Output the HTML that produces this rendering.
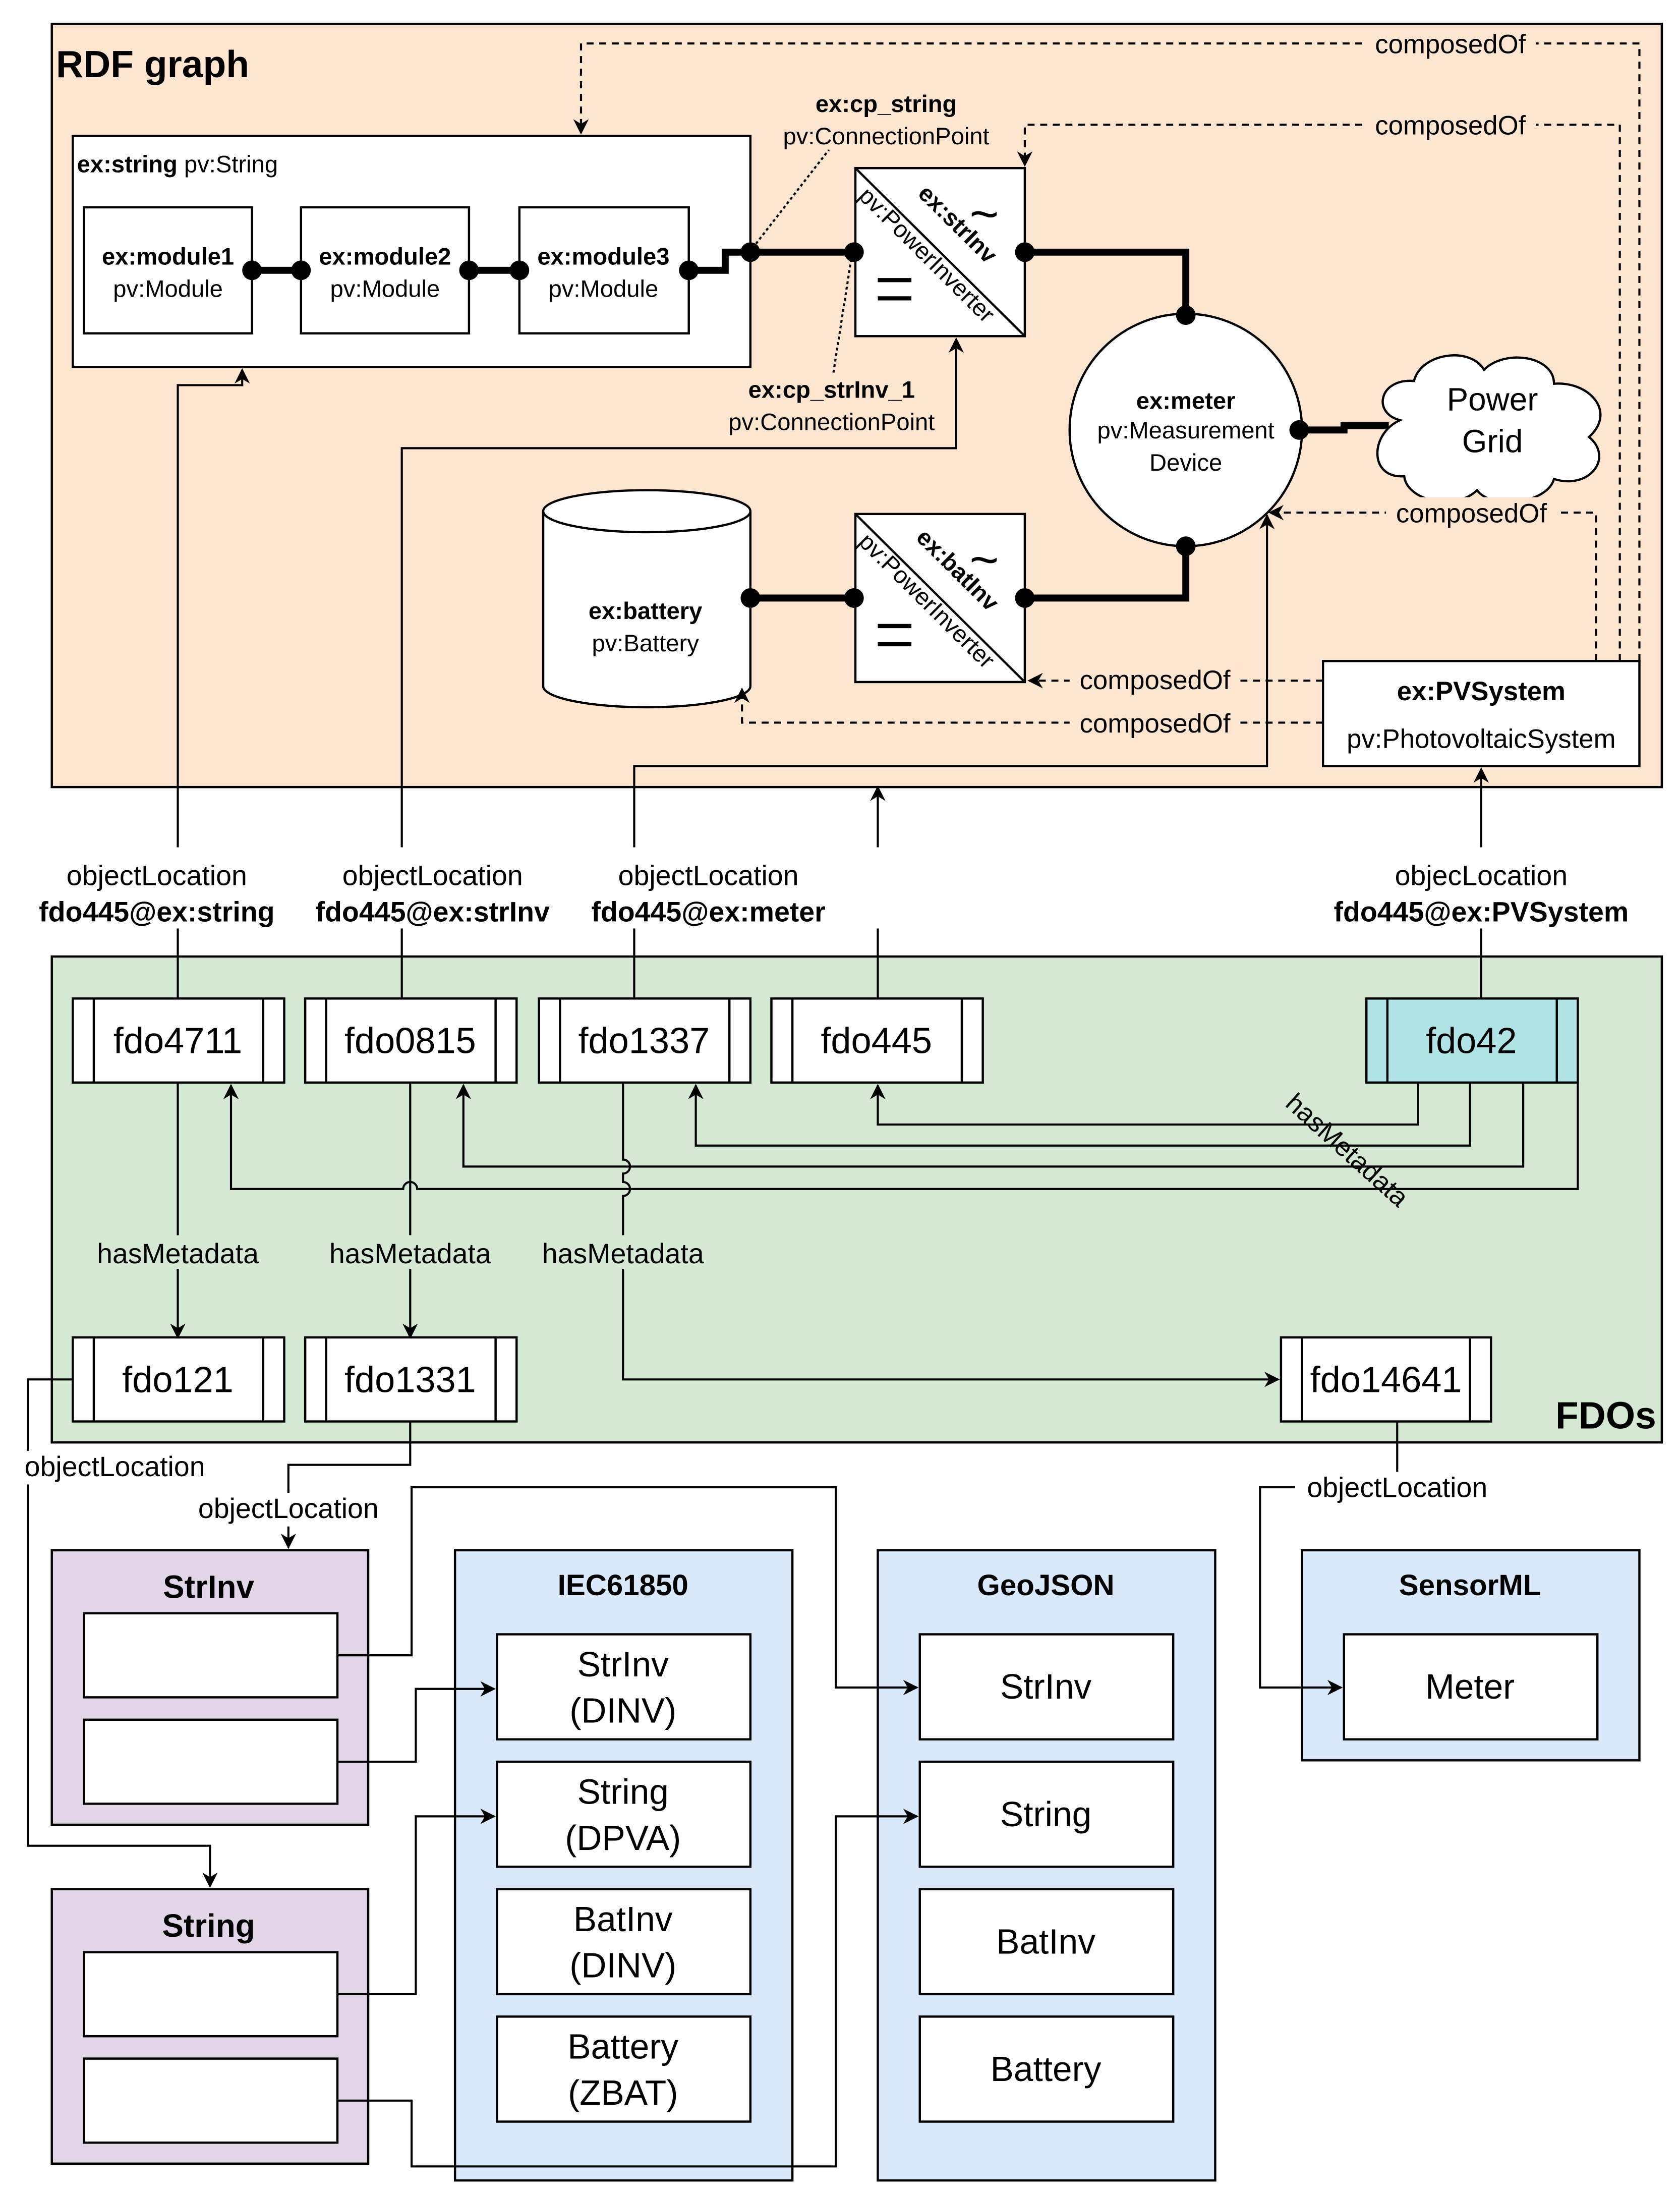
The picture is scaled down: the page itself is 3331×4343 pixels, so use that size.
<!DOCTYPE html>
<html><head><meta charset="utf-8"><style>
html,body{margin:0;padding:0;background:#fff;}
svg{display:block;}
text{font-family:"Liberation Sans",sans-serif;fill:#000;}
</style></head><body>
<svg width="3331" height="4343" viewBox="0 0 1200 1564.5" xmlns="http://www.w3.org/2000/svg">
<defs>
<marker id="b" viewBox="0 0 10 10" refX="9" refY="5" markerWidth="11" markerHeight="11" orient="auto" markerUnits="userSpaceOnUse"><path d="M0,0 L10,5 L0,10 L3,5 z" fill="#000"/></marker>
</defs>
<g stroke="#000" stroke-width="1.6" fill="none">
<rect x="37" y="17" width="1150" height="545" fill="#fee5d0"/>
<rect x="37" y="683" width="1150" height="347" fill="#d5e8d4"/>
</g>
<text x="40" y="55" font-size="27" font-weight="bold">RDF graph</text>
<text x="1183" y="1020" font-size="27" font-weight="bold" text-anchor="end">FDOs</text>

<g stroke="#000" stroke-width="1.6">
<rect x="52" y="97" width="484" height="165" fill="#fff"/>
<rect x="60" y="148" width="120" height="90" fill="#fff"/>
<rect x="215" y="148" width="120" height="90" fill="#fff"/>
<rect x="371" y="148" width="121" height="90" fill="#fff"/>
<rect x="611" y="120" width="121" height="120" fill="#fff"/>
<line x1="611" y1="120" x2="732" y2="240"/>
<rect x="611" y="367" width="121" height="120" fill="#fff"/>
<line x1="611" y1="367" x2="732" y2="487"/>
<circle cx="847" cy="307" r="83" fill="#fff"/>
<path d="M388,365 v125 a74,15 0 0 0 148,0 v-125 a74,15 0 0 0 -148,0 a74,15 0 0 0 148,0" fill="#fff"/>
<path d="M1000,300 c-20,-5 -15,-30 10,-28 c5,-20 40,-25 50,-8 c15,-15 50,-10 50,10 c25,-2 45,20 25,38 c18,15 0,38 -25,30 c-5,18 -45,22 -55,8 c-15,15 -50,8 -52,-10 c-25,2 -25,-30 -3,-40 z" fill="#fff"/>
<rect x="945" y="472" width="226" height="75" fill="#fff"/>
</g>
<text x="55" y="123" font-size="17"><tspan font-weight="bold">ex:string</tspan> pv:String</text>
<g font-size="17" text-anchor="middle">
<text x="120" y="189" font-weight="bold">ex:module1</text><text x="120" y="212">pv:Module</text>
<text x="275" y="189" font-weight="bold">ex:module2</text><text x="275" y="212">pv:Module</text>
<text x="431" y="189" font-weight="bold">ex:module3</text><text x="431" y="212">pv:Module</text>
<text x="633" y="80" font-weight="bold">ex:cp_string</text><text x="633" y="103">pv:ConnectionPoint</text>
<text x="594" y="284" font-weight="bold">ex:cp_strInv_1</text><text x="594" y="307">pv:ConnectionPoint</text>
<text x="847" y="292" font-weight="bold">ex:meter</text><text x="847" y="313">pv:Measurement</text><text x="847" y="336">Device</text>
<text x="461" y="442" font-weight="bold">ex:battery</text><text x="461" y="465">pv:Battery</text>
<text x="1066" y="293" font-size="23">Power</text><text x="1066" y="323" font-size="23">Grid</text>
<text x="1058" y="500" font-size="19" font-weight="bold">ex:PVSystem</text>
<text x="1058" y="534" font-size="19">pv:PhotovoltaicSystem</text>
</g>
<g font-size="17" text-anchor="middle">
<text transform="translate(680,164) rotate(44.8)" font-weight="bold">ex:strInv</text>
<text transform="translate(658,186) rotate(44.8)">pv:PowerInverter</text>
<text transform="translate(680,411) rotate(44.8)" font-weight="bold">ex:batInv</text>
<text transform="translate(658,433) rotate(44.8)">pv:PowerInverter</text>
<text x="703" y="165" font-size="36">~</text>
<text x="703" y="412" font-size="36">~</text>
</g>
<g stroke="#000" stroke-width="3">
<line x1="627" y1="200" x2="651" y2="200"/><line x1="627" y1="213" x2="651" y2="213"/>
<line x1="627" y1="447" x2="651" y2="447"/><line x1="627" y1="460" x2="651" y2="460"/>
</g>
<g stroke="#000" stroke-width="5" fill="none">
<line x1="180" y1="193" x2="215" y2="193"/>
<line x1="335" y1="193" x2="371" y2="193"/>
<polyline points="492,193 518,193 518,180 610,180"/>
<polyline points="732,180 847,180 847,225"/>
<polyline points="928,307 960,307 960,304 992,304"/>
<line x1="536" y1="427" x2="611" y2="427"/>
<polyline points="732,427 847,427 847,390"/>
</g>
<g fill="#000">
<circle cx="180" cy="193" r="7"/><circle cx="215" cy="193" r="7"/><circle cx="335" cy="193" r="7"/><circle cx="371" cy="193" r="7"/><circle cx="492" cy="193" r="7"/><circle cx="536" cy="180" r="7"/><circle cx="610" cy="180" r="7"/><circle cx="732" cy="180" r="7"/><circle cx="847" cy="225" r="7"/><circle cx="928" cy="307" r="7"/><circle cx="536" cy="427" r="7"/><circle cx="610" cy="427" r="7"/><circle cx="732" cy="427" r="7"/><circle cx="847" cy="390" r="7"/>
</g>
<g stroke="#000" stroke-width="1.5" stroke-dasharray="2,2" fill="none">
<line x1="540" y1="174" x2="592" y2="107"/>
<line x1="608" y1="185" x2="595" y2="268"/>
</g>
<g stroke="#000" stroke-width="1.5" stroke-dasharray="5,4" fill="none">
<line x1="945" y1="486" x2="735" y2="486" marker-end="url(#b)"/>
<polyline points="945,516 530,516 530,492" marker-end="url(#b)"/>
<polyline points="1140,472 1140,366 907,366" marker-end="url(#b)"/>
<polyline points="1157,472 1157,89 732,89 732,118" marker-end="url(#b)"/>
<polyline points="1171,472 1171,31 415,31 415,95" marker-end="url(#b)"/>
</g>
<g font-size="19" text-anchor="middle">
<rect x="764" y="474" width="122" height="22" fill="#fee5d0"/><text x="825" y="492">composedOf</text>
<rect x="764" y="505" width="122" height="22" fill="#fee5d0"/><text x="825" y="523">composedOf</text>
<rect x="990" y="355" width="122" height="22" fill="#fee5d0"/><text x="1051" y="373">composedOf</text>
<rect x="975" y="78" width="122" height="22" fill="#fee5d0"/><text x="1036" y="96">composedOf</text>
<rect x="975" y="20" width="122" height="22" fill="#fee5d0"/><text x="1036" y="38">composedOf</text>
</g>

<g stroke="#000" stroke-width="1.5" fill="none">
<polyline points="127,713 127,275 173,275 173,264" marker-end="url(#b)"/>
<polyline points="287,713 287,320 683,320 683,242" marker-end="url(#b)"/>
<polyline points="453,713 453,547 905,547 905,368" marker-end="url(#b)"/>
<line x1="627" y1="713" x2="627" y2="562" marker-end="url(#b)"/>
<line x1="1058" y1="713" x2="1058" y2="549" marker-end="url(#b)"/>
</g>
<rect x="20" y="605" width="1180" height="58" fill="#fff"/>
<g font-size="20" text-anchor="middle">
<text x="112" y="632">objectLocation</text><text x="112" y="658" font-weight="bold">fdo445@ex:string</text>
<text x="309" y="632">objectLocation</text><text x="309" y="658" font-weight="bold">fdo445@ex:strInv</text>
<text x="506" y="632">objectLocation</text><text x="506" y="658" font-weight="bold">fdo445@ex:meter</text>
<text x="1058" y="632">objecLocation</text><text x="1058" y="658" font-weight="bold">fdo445@ex:PVSystem</text>
</g>

<g stroke="#000" stroke-width="1.5" fill="none">
<polyline points="1013,773 1013,803 627,803 627,775" marker-end="url(#b)"/>
<polyline points="1050,773 1050,818 497,818 497,775" marker-end="url(#b)"/>
<polyline points="1088,773 1088,833 331,833 331,775" marker-end="url(#b)"/>
<path d="M1127,773 V849 H298 a5,5 0 0 0 -10,0 H165 V775" marker-end="url(#b)"/>
<line x1="127" y1="773" x2="127" y2="955" marker-end="url(#b)"/>
<line x1="293" y1="773" x2="293" y2="955" marker-end="url(#b)"/>
<path d="M445,773 V828 a5,5 0 0 1 0,10 V844 a5,5 0 0 1 0,10 V985 H913" marker-end="url(#b)"/>
</g>
<text transform="translate(958,826) rotate(42)" font-size="19" text-anchor="middle">hasMetadata</text>
<g font-size="20" text-anchor="middle">
<rect x="60" y="882" width="134" height="24" fill="#d5e8d4"/><text x="127" y="902">hasMetadata</text>
<rect x="226" y="882" width="134" height="24" fill="#d5e8d4"/><text x="293" y="902">hasMetadata</text>
<rect x="378" y="882" width="134" height="24" fill="#d5e8d4"/><text x="445" y="902">hasMetadata</text>
</g>

<g stroke="#000" stroke-width="1.6">
<rect x="52" y="713" width="151" height="60" fill="#fff"/><line x1="67" y1="713" x2="67" y2="773"/><line x1="188" y1="713" x2="188" y2="773"/>
<rect x="218" y="713" width="151" height="60" fill="#fff"/><line x1="233" y1="713" x2="233" y2="773"/><line x1="354" y1="713" x2="354" y2="773"/>
<rect x="385" y="713" width="151" height="60" fill="#fff"/><line x1="400" y1="713" x2="400" y2="773"/><line x1="521" y1="713" x2="521" y2="773"/>
<rect x="551" y="713" width="151" height="60" fill="#fff"/><line x1="566" y1="713" x2="566" y2="773"/><line x1="687" y1="713" x2="687" y2="773"/>
<rect x="976" y="713" width="151" height="60" fill="#b0e3e6"/><line x1="991" y1="713" x2="991" y2="773"/><line x1="1112" y1="713" x2="1112" y2="773"/>
<rect x="52" y="955" width="151" height="60" fill="#fff"/><line x1="67" y1="955" x2="67" y2="1015"/><line x1="188" y1="955" x2="188" y2="1015"/>
<rect x="218" y="955" width="151" height="60" fill="#fff"/><line x1="233" y1="955" x2="233" y2="1015"/><line x1="354" y1="955" x2="354" y2="1015"/>
<rect x="915" y="955" width="150" height="60" fill="#fff"/><line x1="930" y1="955" x2="930" y2="1015"/><line x1="1050" y1="955" x2="1050" y2="1015"/>
</g>
<g font-size="26" text-anchor="middle">
<text x="127" y="752">fdo4711</text><text x="293" y="752">fdo0815</text><text x="460" y="752">fdo1337</text><text x="626" y="752">fdo445</text><text x="1051" y="752">fdo42</text>
<text x="127" y="994">fdo121</text><text x="293" y="994">fdo1331</text><text x="990" y="994">fdo14641</text>
</g>

<g stroke="#000" stroke-width="1.6">
<rect x="37" y="1107" width="226" height="196" fill="#e1d5e7"/>
<rect x="60" y="1152" width="181" height="60" fill="#fff"/><rect x="60" y="1228" width="181" height="60" fill="#fff"/>
<rect x="37" y="1349" width="226" height="196" fill="#e1d5e7"/>
<rect x="60" y="1394" width="181" height="60" fill="#fff"/><rect x="60" y="1470" width="181" height="60" fill="#fff"/>
<rect x="325" y="1107" width="241" height="450" fill="#dae8fc"/>
<rect x="355" y="1167" width="181" height="75" fill="#fff"/><rect x="355" y="1258" width="181" height="75" fill="#fff"/><rect x="355" y="1349" width="181" height="75" fill="#fff"/><rect x="355" y="1440" width="181" height="75" fill="#fff"/>
<rect x="627" y="1107" width="241" height="450" fill="#dae8fc"/>
<rect x="657" y="1167" width="181" height="75" fill="#fff"/><rect x="657" y="1258" width="181" height="75" fill="#fff"/><rect x="657" y="1349" width="181" height="75" fill="#fff"/><rect x="657" y="1440" width="181" height="75" fill="#fff"/>
<rect x="930" y="1107" width="241" height="150" fill="#dae8fc"/>
<rect x="960" y="1167" width="181" height="75" fill="#fff"/>
</g>
<g text-anchor="middle">
<text x="149" y="1141" font-size="23" font-weight="bold">StrInv</text>
<text x="149" y="1383" font-size="23" font-weight="bold">String</text>
<text x="445" y="1139" font-size="21" font-weight="bold">IEC61850</text>
<text x="747" y="1139" font-size="21" font-weight="bold">GeoJSON</text>
<text x="1050" y="1139" font-size="21" font-weight="bold">SensorML</text>
<g font-size="25">
<text x="445" y="1197">StrInv</text><text x="445" y="1230">(DINV)</text>
<text x="445" y="1288">String</text><text x="445" y="1321">(DPVA)</text>
<text x="445" y="1379">BatInv</text><text x="445" y="1412">(DINV)</text>
<text x="445" y="1470">Battery</text><text x="445" y="1503">(ZBAT)</text>
<text x="747" y="1213">StrInv</text><text x="747" y="1304">String</text><text x="747" y="1395">BatInv</text><text x="747" y="1486">Battery</text>
<text x="1050" y="1213">Meter</text>
</g>
</g>
<g stroke="#000" stroke-width="1.5" fill="none">
<polyline points="52,985 20,985 20,1318 150,1318 150,1347" marker-end="url(#b)"/>
<polyline points="293,1015 293,1046 206,1046 206,1105" marker-end="url(#b)"/>
<polyline points="998,1015 998,1062 900,1062 900,1205 958,1205" marker-end="url(#b)"/>
<polyline points="241,1182 294,1182 294,1062 597,1062 597,1205 655,1205" marker-end="url(#b)"/>
<polyline points="241,1258 297,1258 297,1206 353,1206" marker-end="url(#b)"/>
<polyline points="241,1424 297,1424 297,1297 353,1297" marker-end="url(#b)"/>
<polyline points="241,1500 294,1500 294,1547 597,1547 597,1297 655,1297" marker-end="url(#b)"/>
</g>
<g font-size="20" text-anchor="middle">
<rect x="10" y="1036" width="146" height="24" fill="#fff"/><text x="82" y="1054">objectLocation</text>
<rect x="133" y="1066" width="146" height="24" fill="#fff"/><text x="206" y="1084">objectLocation</text>
<rect x="925" y="1051" width="146" height="24" fill="#fff"/><text x="998" y="1069">objectLocation</text>
</g>
</svg>
</body></html>
